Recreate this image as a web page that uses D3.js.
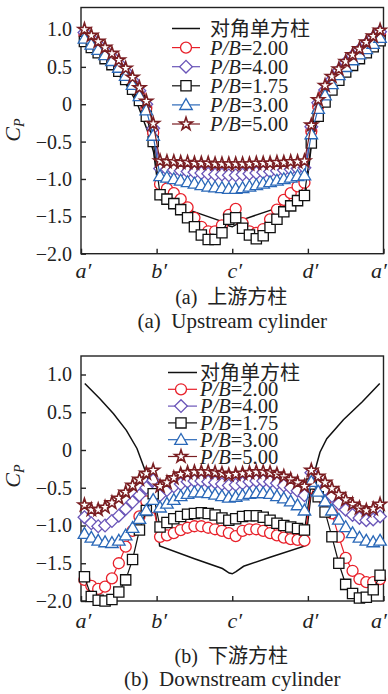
<!DOCTYPE html>
<html><head><meta charset="utf-8">
<script src="https://cdn.jsdelivr.net/npm/d3@7"></script>
<style>body{margin:0;background:#fff} svg{display:block}</style>
</head><body>
<script>
// ---------- DATA ----------
const faceLabels = ["a′", "b′", "c′", "d′", "a′"];
const yTicks = [1.0, 0.5, 0, -0.5, -1.0, -1.5, -2.0];
const singleName = "对角单方柱";
const seriesNames = ["P/B=2.00", "P/B=4.00", "P/B=1.75", "P/B=3.00", "P/B=5.00"];
const captionsCN = ["(a)  上游方柱", "(b)  下游方柱"];
const captionsEN = ["(a)  Upstream cylinder", "(b)  Downstream cylinder"];

// pressure taps: 11 per face, 4 faces (a'-b', b'-c', c'-d', d'-a')
const tapsPerFace = 11;
const tapS = d3.range(4 * tapsPerFace).map(i => Math.floor(i / tapsPerFace) + ((i % tapsPerFace) + 0.5) / tapsPerFace);

// isolated diagonal square cylinder (line only)
const singleS  = [0.05, 0.25, 0.43, 0.6, 0.74, 0.87, 0.96, 1.0, 1.04, 1.5, 1.87, 1.96, 2.0, 2.05, 2.15, 2.5, 2.96, 3.0, 3.04, 3.1, 3.16, 3.25, 3.47, 3.72, 3.95];
const singleCp = [0.88, 0.68, 0.48, 0.26, 0.02, -0.33, -0.64, -0.95, -1.27, -1.44, -1.57, -1.63, -1.64, -1.61, -1.54, -1.42, -1.27, -0.95, -0.6, -0.25, -0.03, 0.15, 0.4, 0.64, 0.88];

// (a) upstream cylinder
const up200 = [0.93,0.85,0.77,0.69,0.61,0.52,0.41,0.29,0.14,-0.05,-0.38,
  -1.07,-1.13,-1.19,-1.27,-1.38,-1.52,-1.64,-1.70,-1.70,-1.62,-1.48,
  -1.40,-1.59,-1.70,-1.72,-1.67,-1.54,-1.41,-1.28,-1.19,-1.10,-1.05,
  -0.36,-0.03,0.15,0.29,0.41,0.52,0.61,0.69,0.77,0.85,0.93];
const up400 = [0.96,0.88,0.80,0.72,0.64,0.55,0.44,0.32,0.18,0.0,-0.32,
  -0.86,-0.87,-0.88,-0.89,-0.90,-0.91,-0.92,-0.93,-0.94,-0.94,-0.95,
  -0.95,-0.94,-0.93,-0.92,-0.91,-0.90,-0.89,-0.88,-0.87,-0.86,-0.85,
  -0.30,0.02,0.19,0.33,0.45,0.56,0.65,0.73,0.81,0.89,0.97];
const up175 = [0.84,0.76,0.69,0.61,0.53,0.44,0.33,0.20,0.05,-0.16,-0.50,
  -1.21,-1.27,-1.33,-1.41,-1.52,-1.64,-1.75,-1.81,-1.81,-1.72,-1.54,
  -1.52,-1.66,-1.75,-1.80,-1.76,-1.65,-1.54,-1.44,-1.36,-1.29,-1.22,
  -0.52,-0.16,0.03,0.19,0.32,0.43,0.52,0.61,0.69,0.77,0.85];
const up300 = [0.88,0.80,0.73,0.66,0.58,0.49,0.38,0.26,0.11,-0.08,-0.42,
  -0.96,-0.98,-1.00,-1.02,-1.04,-1.06,-1.08,-1.10,-1.11,-1.12,-1.13,
  -1.13,-1.12,-1.10,-1.08,-1.06,-1.04,-1.02,-1.00,-0.98,-0.96,-0.95,
  -0.40,-0.06,0.12,0.27,0.39,0.50,0.59,0.67,0.74,0.81,0.89];
const up500 = [1.00,0.92,0.84,0.76,0.68,0.59,0.48,0.36,0.22,0.04,-0.26,
  -0.76,-0.77,-0.77,-0.78,-0.78,-0.79,-0.79,-0.79,-0.80,-0.80,-0.80,
  -0.80,-0.80,-0.80,-0.79,-0.79,-0.79,-0.78,-0.78,-0.77,-0.77,-0.76,
  -0.28,0.06,0.25,0.37,0.47,0.57,0.66,0.74,0.83,0.91,0.99];

// (b) downstream cylinder
const dn200 = [-1.72,-1.80,-1.84,-1.81,-1.70,-1.50,-1.28,-1.07,-0.88,-0.68,-0.76,
  -1.15,-1.13,-1.10,-1.06,-1.03,-1.01,-1.01,-1.03,-1.05,-1.07,-1.10,
  -1.14,-1.07,-1.05,-1.05,-1.07,-1.10,-1.13,-1.16,-1.18,-1.19,-1.20,
  -0.50,-0.56,-0.68,-0.84,-1.15,-1.43,-1.60,-1.71,-1.75,-1.75,-1.71];
const dn400 = [-0.89,-0.97,-1.01,-1.00,-0.94,-0.87,-0.78,-0.69,-0.60,-0.50,-0.40,
  -0.60,-0.53,-0.48,-0.45,-0.42,-0.41,-0.41,-0.42,-0.43,-0.45,-0.47,
  -0.46,-0.44,-0.42,-0.41,-0.41,-0.42,-0.44,-0.47,-0.50,-0.54,-0.60,
  -0.30,-0.42,-0.52,-0.61,-0.71,-0.79,-0.86,-0.90,-0.93,-0.92,-0.88];
const dn175 = [-1.68,-1.94,-1.99,-2.00,-1.98,-1.88,-1.72,-1.45,-1.06,-0.80,-0.58,
  -1.02,-0.96,-0.91,-0.88,-0.85,-0.84,-0.83,-0.84,-0.86,-0.90,-0.93,
  -0.91,-0.88,-0.87,-0.87,-0.89,-0.93,-0.97,-1.00,-1.02,-1.04,-1.06,
  -0.45,-0.62,-0.82,-1.15,-1.50,-1.78,-1.90,-1.96,-1.95,-1.85,-1.66];
const dn300 = [-1.11,-1.16,-1.20,-1.22,-1.23,-1.20,-1.13,-1.03,-0.91,-0.80,-0.66,
  -0.76,-0.71,-0.66,-0.61,-0.58,-0.56,-0.56,-0.57,-0.59,-0.61,-0.63,
  -0.62,-0.60,-0.58,-0.57,-0.57,-0.58,-0.61,-0.64,-0.68,-0.73,-0.80,
  -0.42,-0.55,-0.68,-0.80,-0.92,-1.02,-1.10,-1.16,-1.20,-1.22,-1.20];
const dn500 = [-0.73,-0.79,-0.79,-0.76,-0.70,-0.64,-0.56,-0.47,-0.39,-0.31,-0.27,
  -0.48,-0.43,-0.37,-0.32,-0.30,-0.29,-0.29,-0.29,-0.30,-0.31,-0.33,
  -0.32,-0.31,-0.30,-0.29,-0.29,-0.30,-0.32,-0.35,-0.39,-0.43,-0.48,
  -0.27,-0.35,-0.43,-0.51,-0.59,-0.66,-0.72,-0.77,-0.80,-0.78,-0.72];

// ---------- STYLE / LAYOUT ----------
const serif = "'Liberation Serif','Times New Roman',serif";
const mixed = "'Liberation Serif','Noto Sans CJK SC',serif";
const seriesStyle = [
  {color: "#e8202a", sym: "circle"},
  {color: "#6a55b8", sym: "diamond"},
  {color: "#111111", sym: "square"},
  {color: "#2a68b8", sym: "triangle"},
  {color: "#7a1e22", sym: "star"}
];
const panels = [
  {data: [up200, up400, up175, up300, up500], top: 7.5, bottom: 253.7, y1: 29.5,
   leg: {x0: 172, x1: 200, xm: 186, tx: 210, b0: 35.5, dy: 19.1},
   xlab: 278, ylab: 130, cap1: 304, cap2: 328},
  {data: [dn200, dn400, dn175, dn300, dn500], top: 356, bottom: 601, y1: 374.5,
   leg: {x0: 168, x1: 197, xm: 181, tx: 200, b0: 379.5, dy: 16.8},
   xlab: 628, ylab: 476, cap1: 663, cap2: 686}
];

const svg = d3.select("body").append("svg").attr("width", 388).attr("height", 694);
const x = d3.scaleLinear().domain([0, 4]).range([81, 383.5]);

function symPath(type) {
  const sz = {circle: 95, square: 105, diamond: 80, triangle: 68, star: 50}[type];
  const t = {circle: d3.symbolCircle, square: d3.symbolSquare, diamond: d3.symbolSquare,
             triangle: d3.symbolTriangle, star: d3.symbolStar}[type];
  return d3.symbol().type(t).size(sz)();
}
function drawMarker(g, type, color, cx, cy) {
  g.append("path").attr("d", symPath(type))
    .attr("transform", `translate(${cx},${cy})` + (type === "diamond" ? " rotate(45)" : "") + (type === "triangle" ? " translate(0,1)" : ""))
    .attr("fill", "#fff").attr("stroke", color).attr("stroke-width", type === "star" ? 1.6 : 1.3);
}

panels.forEach((p, pi) => {
  const y = d3.scaleLinear().domain([-2, 1]).range([p.bottom, p.y1]);
  const g = svg.append("g");

  // frame
  g.append("rect").attr("x", x(0)).attr("y", p.top).attr("width", x(4) - x(0)).attr("height", p.bottom - p.top)
    .attr("fill", "#fff").attr("stroke", "#222").attr("stroke-width", 1.4);

  // axes
  const ya = g.append("g").attr("transform", `translate(${x(0)},0)`)
    .call(d3.axisLeft(y).tickValues(yTicks).tickSize(-5).tickPadding(9)
      .tickFormat(d => (d === 0 ? "0" : d3.format(".1f")(d).replace("-", "−"))));
  ya.select(".domain").remove();
  ya.selectAll("line").attr("stroke", "#222").attr("stroke-width", 1.4);
  ya.selectAll("text").attr("font-family", serif).attr("font-size", 20).attr("fill", "#222");

  const xa = g.append("g").attr("transform", `translate(0,${p.bottom})`)
    .call(d3.axisBottom(x).tickValues([0, 1, 2, 3, 4]).tickSize(-5).tickPadding(0)
      .tickFormat((d, i) => faceLabels[i]));
  xa.select(".domain").remove();
  xa.selectAll("line").attr("stroke", "#222").attr("stroke-width", 1.4);
  xa.selectAll("text").attr("font-family", serif).attr("font-size", 22).attr("font-style", "italic")
    .attr("fill", "#222").attr("dy", null).attr("y", p.xlab - p.bottom)
    .attr("x", (d, i) => (i === 4 ? -5 : 2));

  // y label
  const yl = g.append("text").attr("transform", `translate(20,${p.ylab}) rotate(-90)`)
    .attr("text-anchor", "middle").attr("font-family", serif).attr("font-style", "italic")
    .attr("font-size", 22).attr("fill", "#222");
  yl.append("tspan").text("C");
  yl.append("tspan").attr("font-size", 14).attr("dy", 4).text("P");

  // single cylinder line
  const line = d3.line().x(d => x(d[0])).y(d => y(d[1]));
  g.append("path").datum(d3.zip(singleS, singleCp)).attr("d", line)
    .attr("fill", "none").attr("stroke", "#111").attr("stroke-width", 1.5);

  // series
  p.data.forEach((vals, si) => {
    const st = seriesStyle[si];
    const pts = d3.zip(tapS, vals);
    g.append("path").datum(pts).attr("d", line).attr("fill", "none")
      .attr("stroke", st.color).attr("stroke-width", 1.2);
    const mg = g.append("g");
    pts.forEach(d => drawMarker(mg, st.sym, st.color, x(d[0]), y(d[1])));
  });

  // legend
  const L = p.leg;
  const lg = g.append("g");
  const rows = [{name: singleName, color: "#111", sym: null}].concat(
    seriesNames.map((n, i) => ({name: n, color: seriesStyle[i].color, sym: seriesStyle[i].sym})));
  rows.forEach((r, i) => {
    const b = L.b0 + i * L.dy, cy = b - 7;
    lg.append("line").attr("x1", L.x0).attr("x2", L.x1).attr("y1", cy).attr("y2", cy)
      .attr("stroke", r.color).attr("stroke-width", r.sym ? 1.2 : 1.5);
    if (r.sym) drawMarker(lg, r.sym, r.color, L.xm, cy);
    const t = lg.append("text").attr("x", L.tx).attr("y", b).attr("font-size", 20.5).attr("fill", "#222");
    if (r.sym) {
      t.attr("font-family", serif);
      t.append("tspan").attr("font-style", "italic").text("P/B");
      t.append("tspan").text(r.name.slice(3));
    } else {
      t.attr("font-family", "'Noto Sans CJK SC',sans-serif").attr("font-size", 20).text(r.name);
    }
  });

  // captions
  const cx = (x(0) + x(4)) / 2;
  g.append("text").attr("x", cx - 1).attr("y", p.cap1).attr("text-anchor", "middle")
    .attr("font-family", mixed).attr("font-size", 20).attr("fill", "#222")
    .style("white-space", "pre").text(captionsCN[pi]);
  g.append("text").attr("x", cx).attr("y", p.cap2).attr("text-anchor", "middle")
    .attr("font-family", serif).attr("font-size", 21).attr("fill", "#222")
    .style("white-space", "pre").text(captionsEN[pi]);
});
</script>
</body></html>
